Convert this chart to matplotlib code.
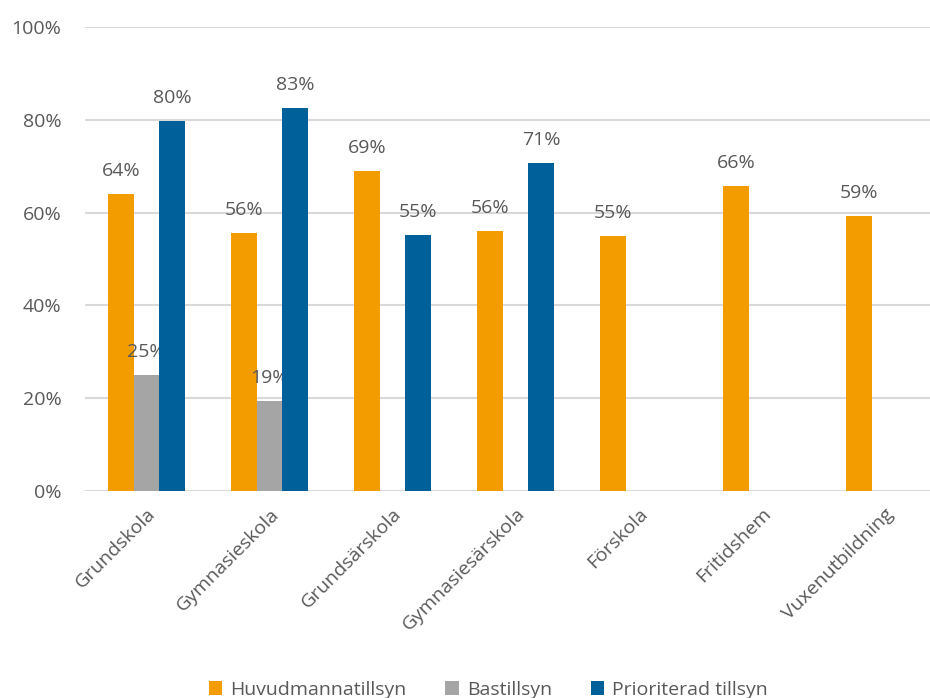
import numpy as np
import matplotlib.pyplot as plt

plt.rcParams['font.family'] = ['Open Sans', 'DejaVu Sans']

categories = ['Grundskola', 'Gymnasieskola', 'Grundsärskola', 'Gymnasiesärskola',
              'Förskola', 'Fritidshem', 'Vuxenutbildning']
huvudman = [64.0, 55.6, 69.0, 56.0, 55.0, 65.7, 59.3]
bastillsyn = [25.0, 19.4, np.nan, np.nan, np.nan, np.nan, np.nan]
prioriterad = [79.7, 82.6, 55.2, 70.7, np.nan, np.nan, np.nan]

series = [
    ('Huvudmannatillsyn', huvudman, '#F39C00'),
    ('Bastillsyn', bastillsyn, '#A5A5A5'),
    ('Prioriterad tillsyn', prioriterad, '#00619A'),
]

text_color = '#595959'
grid_color = '#D9D9D9'
fs = 14

fig = plt.figure(figsize=(9.3, 6.98), dpi=100)
ax = fig.add_axes([85 / 930, 1 - 491 / 698, 861 / 930, 464 / 698])

x = np.arange(len(categories))
width = 0.207
for i, (name, vals, color) in enumerate(series):
    vals = np.array(vals, dtype=float)
    pos = x + (i - 1) * width
    ax.bar(pos, vals, width, color=color, label=name, zorder=3)
    for px, v in zip(pos, vals):
        if np.isnan(v):
            continue
        ax.annotate(f'{round(v):d}%', (px, v), xytext=(0, 10), textcoords='offset points',
                    ha='center', va='bottom', fontsize=fs, color=text_color)

ax.set_xlim(-0.5, len(categories) - 0.5)
ax.set_ylim(0, 100)
ax.set_yticks(np.arange(0, 101, 20))
ax.set_yticklabels([f'{t}%' for t in range(0, 101, 20)])
ax.yaxis.grid(True, color=grid_color, lw=1.5, zorder=0)
ax.set_axisbelow(True)
for s in ax.spines.values():
    s.set_visible(False)
ax.tick_params(axis='both', length=0, labelsize=fs, labelcolor=text_color)
ax.tick_params(axis='y', pad=17)
ax.set_xticks(x)
ax.set_xticklabels(categories, rotation=45, ha='right', rotation_mode='anchor')
ax.tick_params(axis='x', pad=10)

fig.legend(loc='center', bbox_to_anchor=(0.525, 0.012), ncol=3, frameon=False,
           fontsize=fs, labelcolor=text_color,
           handlelength=0.7, handleheight=0.7, handletextpad=0.4, columnspacing=2.0)

fig.savefig('out.png', dpi=100)
